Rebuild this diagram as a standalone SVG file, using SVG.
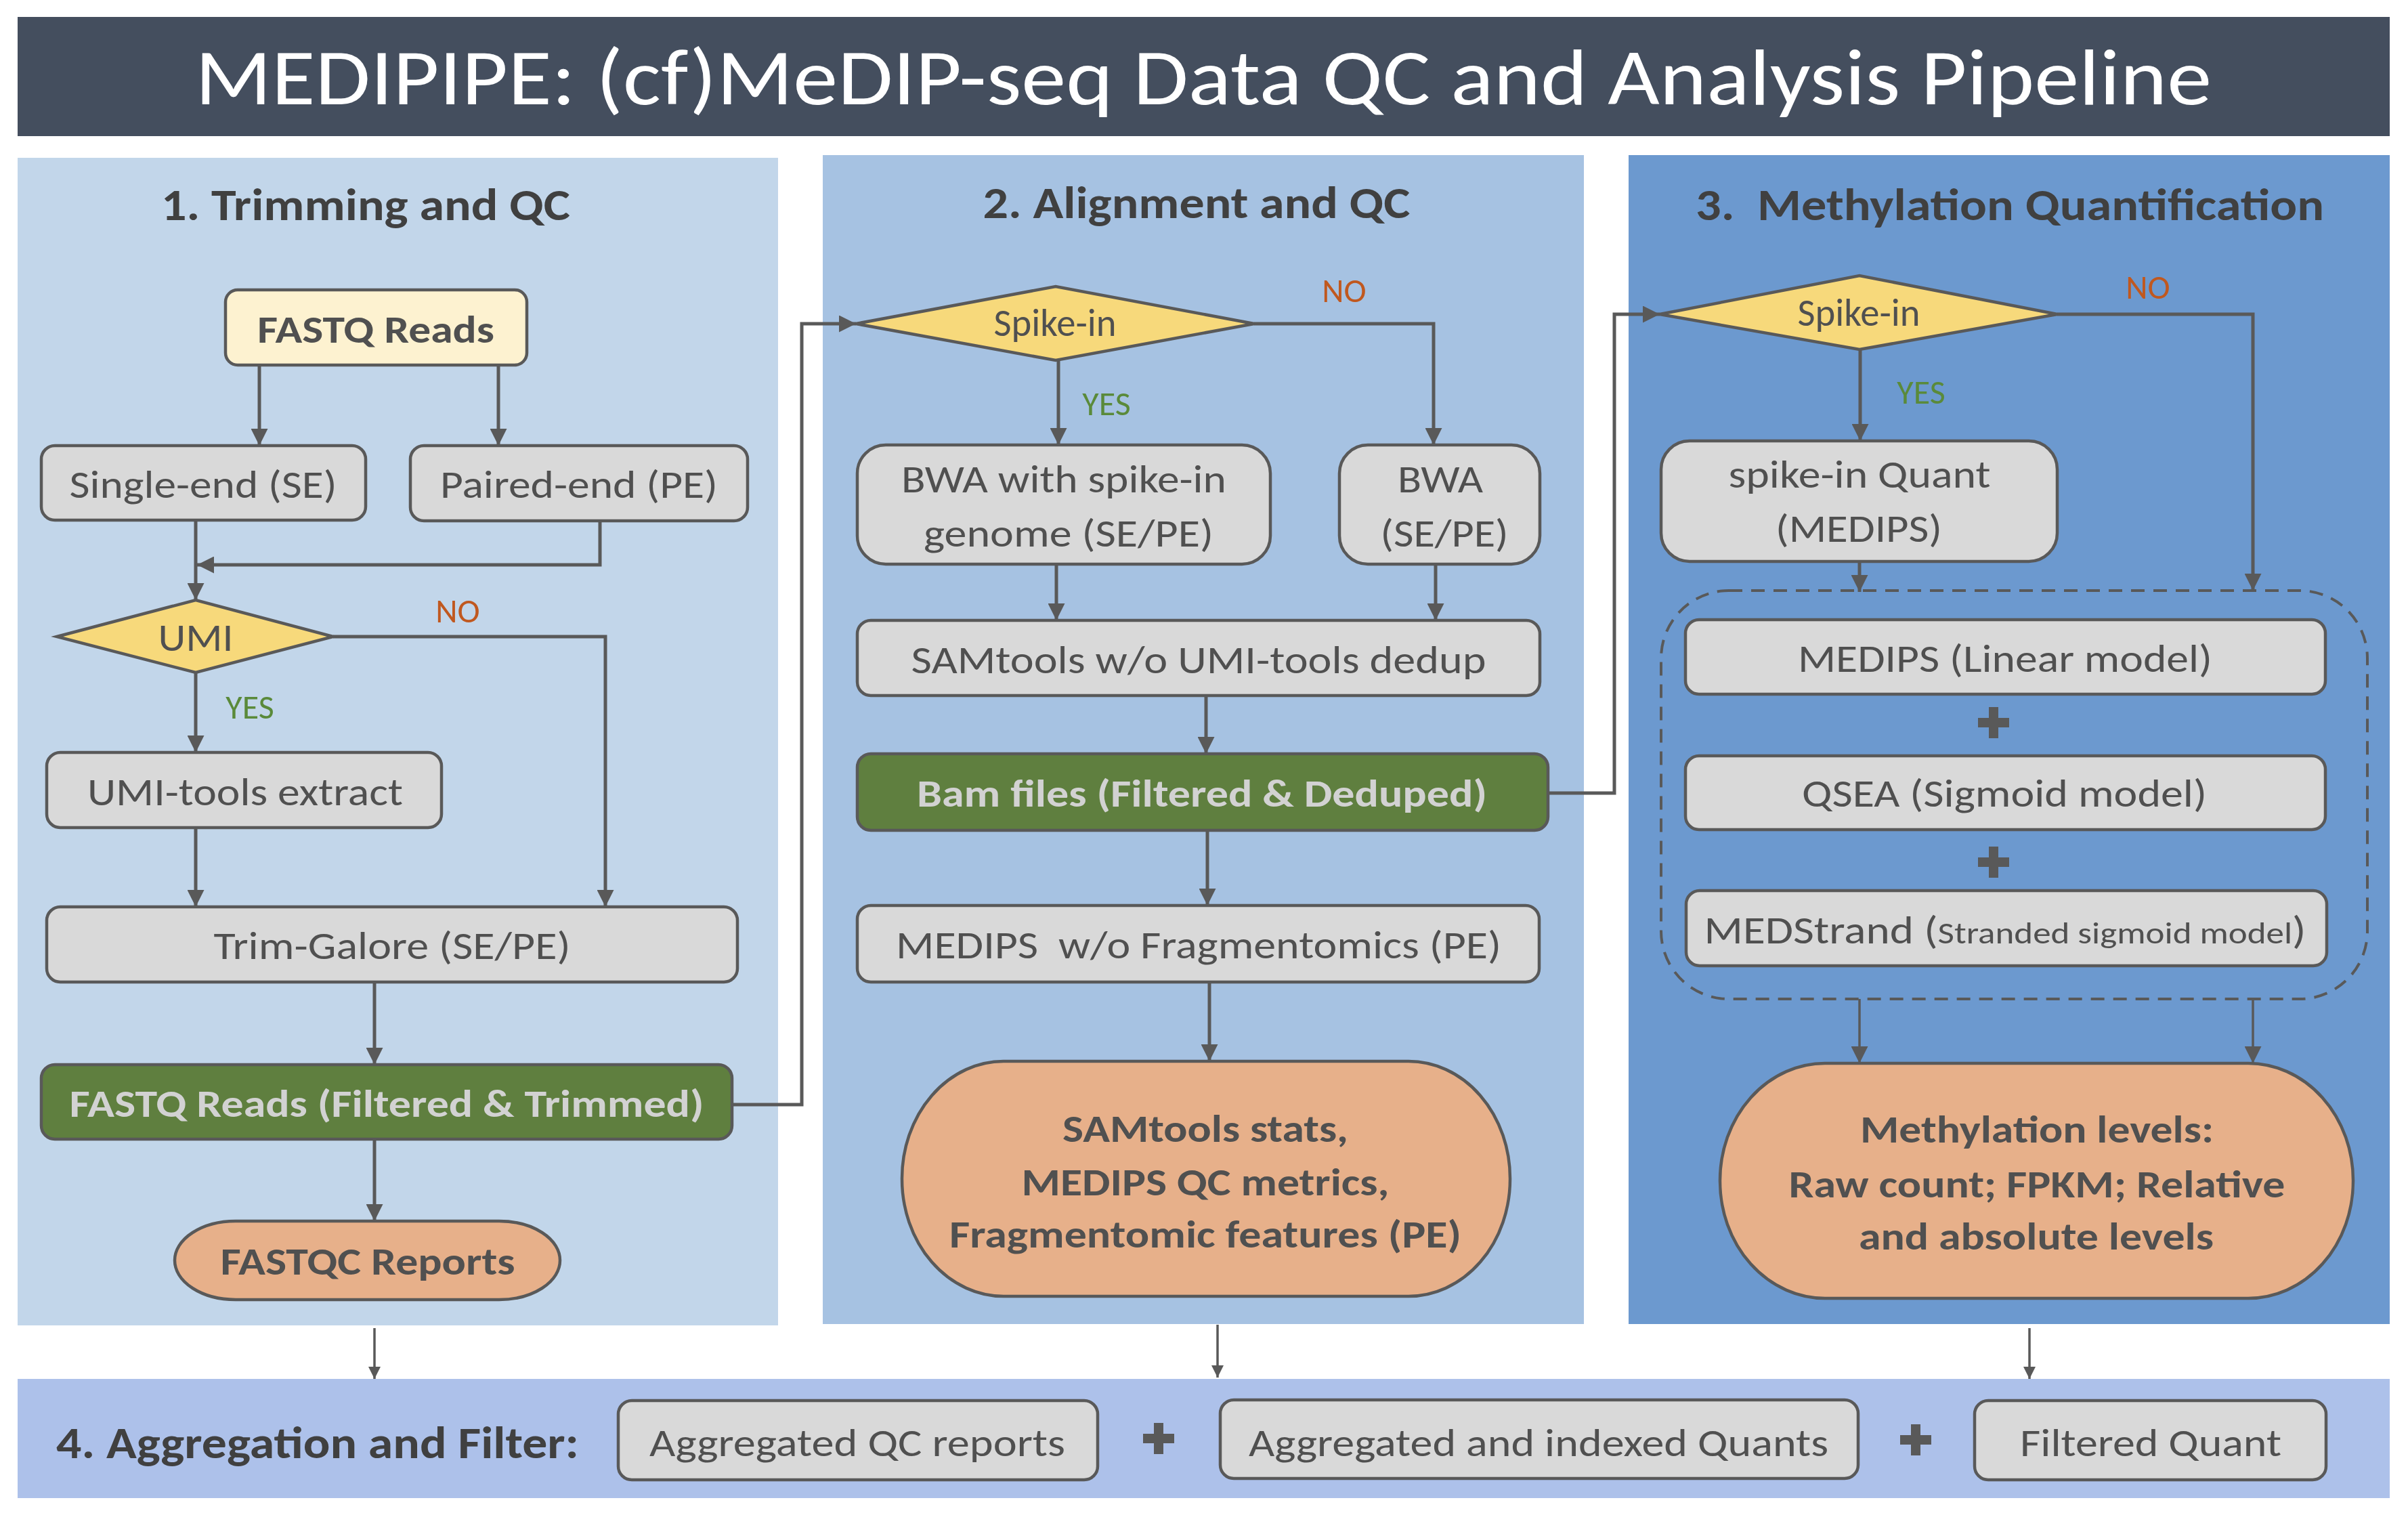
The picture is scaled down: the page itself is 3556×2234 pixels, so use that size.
<svg xmlns="http://www.w3.org/2000/svg" width="3556" height="2234" viewBox="0 0 3556 2234">
<style>
text{font-family:Carlito,Lato,"Liberation Sans",sans-serif;text-anchor:middle}
.title{fill:#ffffff;font-size:117px;font-weight:300}
.ptitle{fill:#404040;font-size:66px;font-weight:700}
.t{fill:#505050;font-size:57px}
.tb{fill:#505050;font-size:57px;font-weight:700}
.tg{fill:#d2d2d2;font-size:57px;font-weight:700}
.no{fill:#c0581f;font-size:50px}
.yes{fill:#5a8a3a;font-size:50px}
.box{fill:#d9d9d9;stroke:#595959;stroke-width:4.5}
.yel{fill:#fdf2d0;stroke:#595959;stroke-width:4.5}
.dia{fill:#f7d97b;stroke:#595959;stroke-width:4.5}
.grn{fill:#5f7f3f;stroke:#595959;stroke-width:4.5}
.org{fill:#e7b08a;stroke:#595959;stroke-width:4.5}
.dash{fill:none;stroke:#595959;stroke-width:4;stroke-dasharray:20 13}
.c{fill:none;stroke:#595959;stroke-width:5}
.c2{fill:none;stroke:#595959;stroke-width:3.5}
.plus{fill:#595959}
</style>
<defs>
<marker id="ah" viewBox="0 0 10 10" refX="10" refY="5" markerUnits="userSpaceOnUse" markerWidth="27" markerHeight="25" orient="auto">
<path d="M0,0 L10,5 L0,10 z" fill="#595959"/>
</marker>
<marker id="ah2" viewBox="0 0 10 10" refX="10" refY="5" markerUnits="userSpaceOnUse" markerWidth="26" markerHeight="18" orient="auto">
<path d="M0,0 L10,5 L0,10 z" fill="#595959"/>
</marker>
</defs>

<g id="title">
<rect x="26" y="25" width="3503" height="176" fill="#444e5e"/>
<text class="title" x="1777" y="154" textLength="2978" lengthAdjust="spacingAndGlyphs">MEDIPIPE: (cf)MeDIP-seq Data QC and Analysis Pipeline</text>
</g>

<g id="panels">
<rect id="panel1" x="26" y="233" width="1123" height="1724" fill="#c2d6ea"/>
<rect id="panel2" x="1215" y="229" width="1124" height="1726" fill="#a6c2e2"/>
<rect id="panel3" x="2405" y="229" width="1124" height="1726" fill="#6c99cf"/>
<rect id="panel4" x="26" y="2036" width="3503" height="176" fill="#adc1ea"/>
<text class="ptitle" x="540" y="325" textLength="604" lengthAdjust="spacingAndGlyphs">1. Trimming and QC</text>
<text class="ptitle" x="1767" y="322" textLength="631" lengthAdjust="spacingAndGlyphs">2. Alignment and QC</text>
<text class="ptitle" x="2968" y="325" textLength="928" lengthAdjust="spacingAndGlyphs" xml:space="preserve">3.  Methylation Quantification</text>
<text class="ptitle" x="469" y="2153" textLength="772" lengthAdjust="spacingAndGlyphs">4. Aggregation and Filter:</text>
</g>

<g id="connectors">
<path class="c" d="M383,539 V658" marker-end="url(#ah)"/>
<path class="c" d="M736,539 V658" marker-end="url(#ah)"/>
<path class="c" d="M289,768 V886" marker-end="url(#ah)"/>
<path class="c" d="M886,769 V834 H291" marker-end="url(#ah)"/>
<path class="c" d="M492,940 H894 V1339" marker-end="url(#ah)"/>
<path class="c" d="M289,993 V1111" marker-end="url(#ah)"/>
<path class="c" d="M289,1222 V1339" marker-end="url(#ah)"/>
<path class="c" d="M553,1450 V1572" marker-end="url(#ah)"/>
<path class="c" d="M553,1682 V1803" marker-end="url(#ah)"/>
<path class="c" d="M1081,1631 H1184 V478 H1264" marker-end="url(#ah)"/>
<path class="c" d="M1852,478 H2117 V657" marker-end="url(#ah)"/>
<path class="c" d="M1563,532 V657" marker-end="url(#ah)"/>
<path class="c" d="M1560,833 V916" marker-end="url(#ah)"/>
<path class="c" d="M2120,833 V916" marker-end="url(#ah)"/>
<path class="c" d="M1781,1027 V1113" marker-end="url(#ah)"/>
<path class="c" d="M1783,1226 V1337" marker-end="url(#ah)"/>
<path class="c" d="M1786,1450 V1567" marker-end="url(#ah)"/>
<path class="c" d="M2286,1171 H2384 V464 H2451" marker-end="url(#ah)"/>
<path class="c" d="M3038,464 H3327 V872" marker-end="url(#ah)"/>
<path class="c" d="M2747,516 V651" marker-end="url(#ah)"/>
<path class="c" d="M2746,829 V874" marker-end="url(#ah)"/>
<path class="c2" d="M2746,1475 V1570" marker-end="url(#ah)"/>
<path class="c2" d="M3327,1475 V1570" marker-end="url(#ah)"/>
<path class="c2" d="M553,1961 V2036" marker-end="url(#ah2)"/>
<path class="c2" d="M1798,1956 V2034" marker-end="url(#ah2)"/>
<path class="c2" d="M2997,1961 V2036" marker-end="url(#ah2)"/>
<text class="no" x="676" y="919">NO</text>
<text class="yes" x="369" y="1061">YES</text>
<text class="no" x="1985" y="446">NO</text>
<text class="yes" x="1634" y="613">YES</text>
<text class="no" x="3172" y="441">NO</text>
<text class="yes" x="2837" y="596">YES</text>
</g>

<g id="fastq-reads">
<rect class="yel" x="333" y="428" width="445" height="111" rx="18"/>
<text class="tb" x="555" y="506" textLength="350" lengthAdjust="spacingAndGlyphs">FASTQ Reads</text>
</g>
<g id="single-end">
<rect class="box" x="61" y="658" width="479" height="110" rx="20"/>
<text class="t" x="300" y="735" textLength="395" lengthAdjust="spacingAndGlyphs">Single-end (SE)</text>
</g>
<g id="paired-end">
<rect class="box" x="606" y="658" width="498" height="111" rx="20"/>
<text class="t" x="855" y="735" textLength="410" lengthAdjust="spacingAndGlyphs">Paired-end (PE)</text>
</g>
<g id="umi">
<polygon class="dia" points="84,940 289,886 492,940 289,993"/>
<text class="t" x="289" y="961" textLength="111" lengthAdjust="spacingAndGlyphs">UMI</text>
</g>
<g id="umi-extract">
<rect class="box" x="69" y="1111" width="583" height="111" rx="20"/>
<text class="t" x="362" y="1189" textLength="466" lengthAdjust="spacingAndGlyphs">UMI-tools extract</text>
</g>
<g id="trim-galore">
<rect class="box" x="69" y="1339" width="1020" height="111" rx="20"/>
<text class="t" x="579" y="1416" textLength="527" lengthAdjust="spacingAndGlyphs">Trim-Galore (SE/PE)</text>
</g>
<g id="fastq-filtered">
<rect class="grn" x="61" y="1572" width="1020" height="110" rx="20"/>
<text class="tg" x="571" y="1649" textLength="937" lengthAdjust="spacingAndGlyphs">FASTQ Reads (Filtered &amp; Trimmed)</text>
</g>
<g id="fastqc-reports">
<rect class="org" x="258" y="1803" width="569" height="116" rx="90" ry="58"/>
<text class="tb" x="543" y="1882" textLength="435" lengthAdjust="spacingAndGlyphs">FASTQC Reports</text>
</g>

<g id="spike-in-2">
<polygon class="dia" points="1264,478 1559,423 1852,478 1559,532"/>
<text class="t" x="1558" y="496" font-size="52" textLength="181" lengthAdjust="spacingAndGlyphs">Spike-in</text>
</g>
<g id="bwa-spike">
<rect class="box" x="1266" y="657" width="610" height="176" rx="42"/>
<text class="t" x="1571" y="727" textLength="480" lengthAdjust="spacingAndGlyphs">BWA with spike-in</text>
<text class="t" x="1578" y="807" textLength="428" lengthAdjust="spacingAndGlyphs">genome (SE/PE)</text>
</g>
<g id="bwa">
<rect class="box" x="1978" y="657" width="296" height="176" rx="42"/>
<text class="t" x="2127" y="727" textLength="126" lengthAdjust="spacingAndGlyphs">BWA</text>
<text class="t" x="2133" y="807" textLength="189" lengthAdjust="spacingAndGlyphs">(SE/PE)</text>
</g>
<g id="samtools">
<rect class="box" x="1266" y="916" width="1008" height="111" rx="20"/>
<text class="t" x="1770" y="994" textLength="849" lengthAdjust="spacingAndGlyphs">SAMtools w/o UMI-tools dedup</text>
</g>
<g id="bam-files">
<rect class="grn" x="1266" y="1113" width="1020" height="113" rx="20"/>
<text class="tg" x="1775" y="1191" textLength="842" lengthAdjust="spacingAndGlyphs">Bam files (Filtered &amp; Deduped)</text>
</g>
<g id="medips-frag">
<rect class="box" x="1266" y="1337" width="1007" height="113" rx="20"/>
<text class="t" x="1770" y="1415" textLength="894" lengthAdjust="spacingAndGlyphs" xml:space="preserve">MEDIPS  w/o Fragmentomics (PE)</text>
</g>
<g id="qc-output">
<rect class="org" x="1332" y="1567" width="898" height="347" rx="150" ry="173"/>
<text class="tb" x="1780" y="1686" textLength="422" lengthAdjust="spacingAndGlyphs">SAMtools stats,</text>
<text class="tb" x="1780" y="1765" textLength="543" lengthAdjust="spacingAndGlyphs">MEDIPS QC metrics,</text>
<text class="tb" x="1780" y="1842" textLength="756" lengthAdjust="spacingAndGlyphs">Fragmentomic features (PE)</text>
</g>

<g id="spike-in-3">
<polygon class="dia" points="2451,464 2746,407 3038,464 2746,516"/>
<text class="t" x="2745" y="481" font-size="52" textLength="181" lengthAdjust="spacingAndGlyphs">Spike-in</text>
</g>
<g id="spike-quant">
<rect class="box" x="2453" y="651" width="585" height="178" rx="42"/>
<text class="t" x="2746" y="720" textLength="387" lengthAdjust="spacingAndGlyphs">spike-in Quant</text>
<text class="t" x="2745" y="800" textLength="246" lengthAdjust="spacingAndGlyphs">(MEDIPS)</text>
</g>
<g id="models">
<rect class="dash" x="2453" y="872" width="1043" height="603" rx="100"/>
</g>
<g id="medips-linear">
<rect class="box" x="2489" y="915" width="945" height="110" rx="20"/>
<text class="t" x="2961" y="992" textLength="612" lengthAdjust="spacingAndGlyphs">MEDIPS (Linear model)</text>
</g>
<g id="plus-1"><path class="plus" d="M2937,1044 h14 v16 h16 v14 h-16 v16 h-14 v-16 h-16 v-14 h16 z"/></g>
<g id="qsea">
<rect class="box" x="2489" y="1116" width="945" height="109" rx="20"/>
<text class="t" x="2960" y="1191" textLength="598" lengthAdjust="spacingAndGlyphs">QSEA (Sigmoid model)</text>
</g>
<g id="plus-2"><path class="plus" d="M2937,1250 h14 v16 h16 v14 h-16 v16 h-14 v-16 h-16 v-14 h16 z"/></g>
<g id="medstrand">
<rect class="box" x="2490" y="1315" width="946" height="111" rx="20"/>
<text class="t" x="2961" y="1393" textLength="889" lengthAdjust="spacingAndGlyphs">MEDStrand (<tspan font-size="45">Stranded sigmoid model</tspan>)</text>
</g>
<g id="methylation-output">
<rect class="org" x="2540" y="1570" width="935" height="347" rx="155" ry="173"/>
<text class="tb" x="3008" y="1687" textLength="522" lengthAdjust="spacingAndGlyphs">Methylation levels:</text>
<text class="tb" x="3008" y="1768" textLength="733" lengthAdjust="spacingAndGlyphs">Raw count; FPKM; Relative</text>
<text class="tb" x="3007" y="1845" textLength="524" lengthAdjust="spacingAndGlyphs">and absolute levels</text>
</g>

<g id="agg-qc">
<rect class="box" x="913" y="2068" width="708" height="117" rx="20"/>
<text class="t" x="1266" y="2150" textLength="614" lengthAdjust="spacingAndGlyphs">Aggregated QC reports</text>
</g>
<g id="plus-3"><path class="plus" d="M1704,2101 h14 v16 h16 v14 h-16 v16 h-14 v-16 h-16 v-14 h16 z"/></g>
<g id="agg-quants">
<rect class="box" x="1802" y="2067" width="942" height="116" rx="20"/>
<text class="t" x="2272" y="2150" textLength="856" lengthAdjust="spacingAndGlyphs">Aggregated and indexed Quants</text>
</g>
<g id="plus-4"><path class="plus" d="M2822,2103 h14 v16 h16 v14 h-16 v16 h-14 v-16 h-16 v-14 h16 z"/></g>
<g id="filtered-quant">
<rect class="box" x="2916" y="2068" width="519" height="117" rx="20"/>
<text class="t" x="3176" y="2150" textLength="386" lengthAdjust="spacingAndGlyphs">Filtered Quant</text>
</g>
</svg>
